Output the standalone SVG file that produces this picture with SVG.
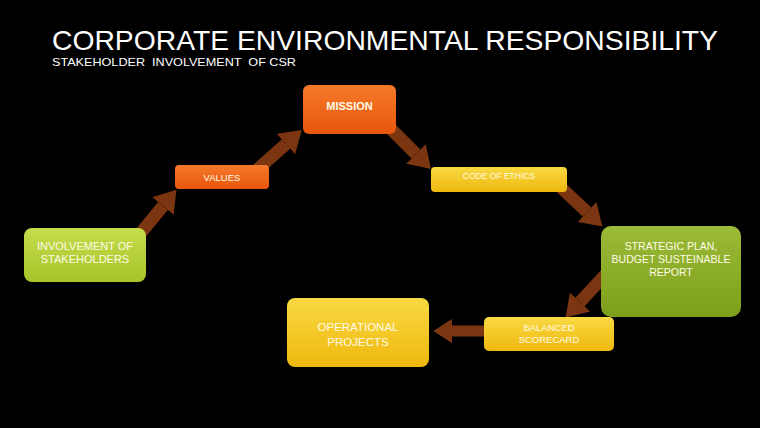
<svg xmlns="http://www.w3.org/2000/svg" width="760" height="428" viewBox="0 0 760 428">
<defs>
<linearGradient id="gLime" x1="0" y1="0" x2="0" y2="1"><stop offset="0" stop-color="#c6dc4c"/><stop offset="1" stop-color="#a5c52a"/></linearGradient>
<linearGradient id="gOlive" x1="0" y1="0" x2="0" y2="1"><stop offset="0" stop-color="#9cbb38"/><stop offset="1" stop-color="#7c9f1c"/></linearGradient>
<linearGradient id="gOrange" x1="0" y1="0" x2="0" y2="1"><stop offset="0" stop-color="#f5792a"/><stop offset="1" stop-color="#e8560c"/></linearGradient>
<linearGradient id="gYellow" x1="0" y1="0" x2="0" y2="1"><stop offset="0" stop-color="#f9d943"/><stop offset="1" stop-color="#efb80e"/></linearGradient>
<marker id="head" viewBox="0 0 20 26" refX="0" refY="13" markerWidth="1.7" markerHeight="2.2" markerUnits="strokeWidth" orient="auto">
<path d="M0,0 L20,13 L0,26 Z" fill="#7b3611"/>
</marker>
</defs>
<style>
.title{font-family:"Liberation Sans",Arial,sans-serif;fill:#ffffff}
.lbl{font-family:"Liberation Sans",Arial,sans-serif;fill:#fffbe6;text-anchor:middle}
.arrow{stroke:#7b3611;stroke-width:12.5;fill:none;marker-end:url(#head)}
</style>
<rect width="760" height="428" fill="#000"/>
<text class="title" x="52" y="50" font-size="28" textLength="666" lengthAdjust="spacingAndGlyphs">CORPORATE ENVIRONMENTAL RESPONSIBILITY</text>
<text class="title" x="52" y="66" font-size="11" textLength="244" lengthAdjust="spacingAndGlyphs" xml:space="preserve">STAKEHOLDER  INVOLVEMENT  OF CSR</text>
<g id="connectors">
<line class="arrow" x1="130" y1="246" x2="163" y2="206"/>
<line class="arrow" x1="250" y1="176" x2="286" y2="144"/>
<line class="arrow" x1="386" y1="124" x2="416" y2="154"/>
<line class="arrow" x1="555" y1="182" x2="587" y2="212"/>
<line class="arrow" x1="606" y1="274" x2="580" y2="302"/>
<line class="arrow" x1="492" y1="331" x2="452" y2="331" style="stroke-width:11"/>
</g>
<g id="n-involvement">
<rect x="24" y="228" width="122" height="54" rx="8" fill="url(#gLime)"/>
<text class="lbl" x="85" y="250" font-size="11">INVOLVEMENT OF</text>
<text class="lbl" x="85" y="263" font-size="11">STAKEHOLDERS</text>
</g>
<g id="n-values">
<rect x="175" y="165" width="94" height="24" rx="4" fill="url(#gOrange)"/>
<text class="lbl" x="222" y="181" font-size="9.5">VALUES</text>
</g>
<g id="n-mission">
<rect x="303" y="85" width="93" height="49" rx="6" fill="url(#gOrange)"/>
<text class="lbl" x="349.5" y="110" font-size="11" font-weight="bold">MISSION</text>
</g>
<g id="n-ethics">
<rect x="431" y="167" width="136" height="25" rx="4" fill="url(#gYellow)"/>
<text class="lbl" x="499" y="179" font-size="8.5">CODE OF ETHICS</text>
</g>
<g id="n-strategic">
<rect x="601" y="226" width="140" height="91" rx="10" fill="url(#gOlive)"/>
<text class="lbl" x="671" y="250" font-size="10.5">STRATEGIC PLAN,</text>
<text class="lbl" x="671" y="263" font-size="10.5">BUDGET SUSTEINABLE</text>
<text class="lbl" x="671" y="276" font-size="10.5">REPORT</text>
</g>
<g id="n-operational">
<rect x="287" y="298" width="142" height="69" rx="8" fill="url(#gYellow)"/>
<text class="lbl" x="358" y="331" font-size="11.5">OPERATIONAL</text>
<text class="lbl" x="358" y="346" font-size="11.5">PROJECTS</text>
</g>
<g id="n-scorecard">
<rect x="484" y="317" width="130" height="34" rx="5" fill="url(#gYellow)"/>
<text class="lbl" x="549" y="331" font-size="9.5">BALANCED</text>
<text class="lbl" x="549" y="343" font-size="9.5">SCORECARD</text>
</g>
</svg>
